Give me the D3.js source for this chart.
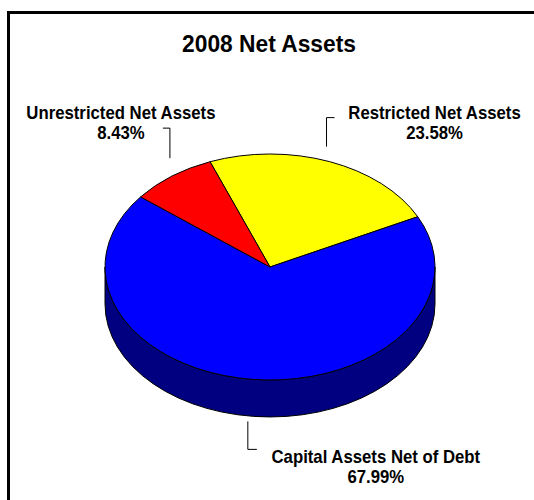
<!DOCTYPE html>
<html>
<head>
<meta charset="utf-8">
<script src="https://cdn.jsdelivr.net/npm/d3@7"></script>
<style>
  body { margin: 0; background: #fff; }
  svg { display: block; }
  text { font-family: "Liberation Sans", Arial, sans-serif; font-weight: bold; fill: #000; }
</style>
</head>
<body>
<svg id="chart" width="534" height="500"></svg>
<script>
// ---- data ----
const title = "2008 Net Assets";
const categories = ["Restricted Net Assets", "Capital Assets Net of Debt", "Unrestricted Net Assets"];
const shares = [23.58, 67.99, 8.43];
const percentLabels = ["23.58%", "67.99%", "8.43%"];
const topColors = ["#ffff00", "#0000ff", "#ff0000"];
const sideColors = ["#808000", "#000080", "#800000"];

// ---- layout ----
const W = 534, H = 500;
const cx = 270, cy = 267;        // centre of the top face
const rx = 165, ry = 113;        // radii of the tilted disc
const depth = 37;                // thickness of the disc
const startAngle = -21.3 * Math.PI / 180;

// leader/label placement relative to each slice's anchor point
const labelLayout = [
  { off: [-3, -15], rise: -29, tick: 8,  dx: 108, dy: 1 },
  { off: [-5, 5],   rise: 28,  tick: 9,  dx: 128, dy: 14 },
  { off: [-2, -18], rise: -30, tick: -7, dx: -49, dy: -9 }
];
const lineGap = 20;
const labelSize = 18, labelSqueeze = 0.93;
const titleSize = 24, titleSqueeze = 0.95;

const svg = d3.select("#chart");

// frame
svg.append("rect")
  .attr("x", 8.5).attr("y", 12.5)
  .attr("width", 560).attr("height", 520)
  .attr("fill", "none").attr("stroke", "#000").attr("stroke-width", 3);

// title (narrow bold face)
svg.append("text")
  .attr("transform", `translate(269,51.5) scale(${titleSqueeze},1)`)
  .attr("text-anchor", "middle")
  .style("font-size", titleSize + "px")
  .text(title);

const pie = d3.pie().sort(null).value(d => d)
  .startAngle(startAngle).endAngle(startAngle + 2 * Math.PI);
const arcs = pie(shares);

// angle measured clockwise from 12 o'clock -> point on the tilted ellipse
const px = a => cx + rx * Math.sin(a);
const py = a => cy - ry * Math.cos(a);
const pt = (a, z = 0) => `${px(a).toFixed(2)},${(py(a) + z).toFixed(2)}`;

// side walls: only the part of each slice facing the viewer (angles PI/2..3PI/2)
const sides = [];
arcs.forEach((d, i) => {
  for (let k = -1; k <= 1; k++) {
    const lo = Math.PI / 2 + 2 * Math.PI * k, hi = 3 * Math.PI / 2 + 2 * Math.PI * k;
    const s = Math.max(d.startAngle, lo), e = Math.min(d.endAngle, hi);
    if (e > s) sides.push({ i, s, e });
  }
});

svg.append("g").selectAll("path").data(sides).join("path")
  .attr("d", d =>
    `M${pt(d.s)} A${rx},${ry} 0 0 1 ${pt(d.e)} ` +
    `L${pt(d.e, depth)} A${rx},${ry} 0 0 0 ${pt(d.s, depth)} Z`)
  .attr("fill", d => sideColors[d.i])
  .attr("stroke", "#000").attr("stroke-width", 1).attr("stroke-linejoin", "round");

// top faces
svg.append("g").selectAll("path").data(arcs).join("path")
  .attr("d", d => {
    const large = d.endAngle - d.startAngle > Math.PI ? 1 : 0;
    return `M${cx},${cy} L${pt(d.startAngle)} A${rx},${ry} 0 ${large} 1 ${pt(d.endAngle)} Z`;
  })
  .attr("fill", (d, i) => topColors[i])
  .attr("stroke", "#000").attr("stroke-width", 1).attr("stroke-linejoin", "round");

// labels with elbow leader lines
const labels = svg.append("g");
arcs.forEach((d, i) => {
  const m = (d.startAngle + d.endAngle) / 2;
  const front = Math.cos(m) < 0;
  const ax = px(m), ay = py(m) + (front ? depth : 0);
  const L = labelLayout[i];
  const sx = ax + L.off[0], sy = ay + L.off[1];
  const ey = sy + L.rise;
  labels.append("path")
    .attr("d", `M${sx},${sy} V${ey} H${sx + L.tick}`)
    .attr("fill", "none").attr("stroke", "#000").attr("stroke-width", 1);
  const t = labels.append("text")
    .attr("transform", `translate(${sx + L.dx},${ey + L.dy}) scale(${labelSqueeze},1)`)
    .attr("text-anchor", "middle")
    .style("font-size", labelSize + "px");
  t.append("tspan").attr("x", 0).attr("y", 0).text(categories[i]);
  t.append("tspan").attr("x", 0).attr("y", lineGap).text(percentLabels[i]);
});
</script>
</body>
</html>
